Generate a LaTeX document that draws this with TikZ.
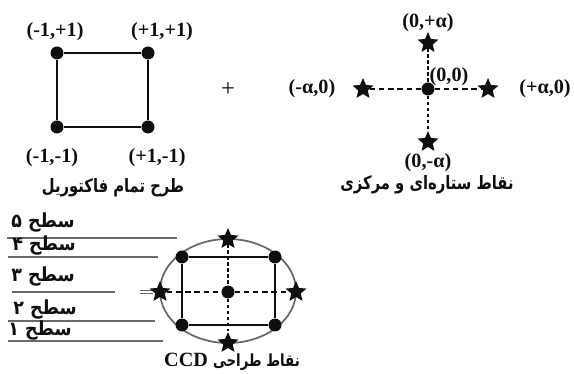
\documentclass[tikz,border=0pt]{standalone}
\usepackage{fontspec}
\setmainfont{Liberation Serif}
\newfontfamily\arabicfont[Script=Arabic,FakeStretch=0.9]{DejaVu Sans}
\newfontfamily\arabicnarrow[Script=Arabic,FakeStretch=0.8]{DejaVu Sans}
\TeXXeTstate=1
\usetikzlibrary{shapes.geometric}
\definecolor{dink}{RGB}{15,15,15}
\definecolor{dgrid}{RGB}{105,105,105}

\begin{document}
\begin{tikzpicture}[x=0.02cm,y=-0.02cm,
  font=\bfseries\fontsize{11.5}{13}\selectfont,
  every node/.style={text=dink},
  dot/.style={circle,fill=dink,inner sep=0pt,minimum size=0.26cm},
  axstar/.style={star,star points=5,star point ratio=2.2,fill=dink,inner sep=0pt,minimum size=0.44cm},
  fa/.style={font=\arabicnarrow\bfseries\fontsize{10.5}{12}\selectfont},
  lvl/.style={font=\arabicfont\bfseries\fontsize{11}{12}\selectfont,inner sep=1pt},
  edge/.style={dink,line width=1.1pt},
  hdash/.style={dink,line width=1pt,dash pattern=on 3pt off 2.2pt},
  vdash/.style={dink,line width=1pt,dash pattern=on 2pt off 1.4pt},
  level/.style={dgrid,line width=0.9pt}]

\useasboundingbox (0,0) rectangle (574,374);

% full factorial
\node[dot] (f-tl) at (57,53) {};
\node[dot] (f-tr) at (148,53) {};
\node[dot] (f-bl) at (57,127) {};
\node[dot] (f-br) at (148,127) {};
\draw[edge] (f-tl)--(f-tr);
\draw[edge] (f-tr)--(f-br);
\draw[edge] (f-br)--(f-bl);
\draw[edge] (f-bl)--(f-tl);
\node (l-tl) at (55,32) {(-1,+1)};
\node (l-tr) at (162,32) {(+1,+1)};
\node (l-bl) at (52,158) {(-1,-1)};
\node (l-br) at (157,158) {(+1,-1)};
\node[fa] (cap-f) at (113,188) {\beginR طرح تمام فاکتوریل\endR};

\node[font=\mdseries\fontsize{14}{14}\selectfont] (plus) at (228,90) {+};

% star and centre points
\node[dot] (s-c) at (428,89) {};
\node[axstar] (s-t) at (428,43) {};
\node[axstar] (s-b) at (428,142) {};
\node[axstar] (s-l) at (363,89) {};
\node[axstar] (s-r) at (488,89) {};
\draw[vdash] (s-t)--(s-c);
\draw[vdash] (s-c)--(s-b);
\draw[hdash] (s-l)--(s-c);
\draw[hdash] (s-c)--(s-r);
\node (l-st) at (428,23) {(0,+α)};
\node (l-sc) at (449,77) {(0,0)};
\node (l-sl) at (312,89) {(-α,0)};
\node (l-sr) at (545,89) {(+α,0)};
\node (l-sb) at (428,163) {(0,-α)};
\node[fa] (cap-s) at (427,185) {\beginR نقاط ستاره^^^^200cای و مرکزی\endR};

% levels
\draw[level] (7,238)--(177,238);
\draw[level] (8,257)--(158,257);
\draw[level] (12,292)--(115,292);
\draw[level] (140,290.5)--(153,290.5);
\draw[level] (140,293.5)--(153,293.5);
\draw[level] (8,321)--(155,321);
\draw[level] (8,341)--(163,341);
\node[lvl] (lv5) at (43,223) {\beginR سطح ۵\endR};
\node[lvl] (lv4) at (44,246) {\beginR سطح ۴\endR};
\node[lvl] (lv3) at (43,277) {\beginR سطح ۳\endR};
\node[lvl] (lv2) at (45,310) {\beginR سطح ۲\endR};
\node[lvl] (lv1) at (40,331) {\beginR سطح ۱\endR};

% CCD
\draw[dgrid,line width=1pt] (228,291) ellipse [x radius=68,y radius=52];
\node[dot] (c-c) at (228,292) {};
\node[dot] (c-tl) at (182,257) {};
\node[dot] (c-tr) at (275,257) {};
\node[dot] (c-bl) at (182,325) {};
\node[dot] (c-br) at (275,325) {};
\node[axstar] (c-st) at (228,239) {};
\node[axstar] (c-sb) at (228,343) {};
\node[axstar] (c-sl) at (160,292) {};
\node[axstar] (c-sr) at (296,292) {};
\draw[edge] (c-tl)--(c-tr);
\draw[edge] (c-tr)--(c-br);
\draw[edge] (c-br)--(c-bl);
\draw[edge] (c-bl)--(c-tl);
\draw[vdash] (c-st)--(c-c);
\draw[vdash] (c-c)--(c-sb);
\draw[hdash] (c-sl)--(c-c);
\draw[hdash] (c-c)--(c-sr);
\node (cap-c) at (232,362) {\beginR{\arabicnarrow\fontsize{9.5}{12}\selectfont نقاط طراحی} \beginL CCD\endL\endR};
\end{tikzpicture}
\end{document}
